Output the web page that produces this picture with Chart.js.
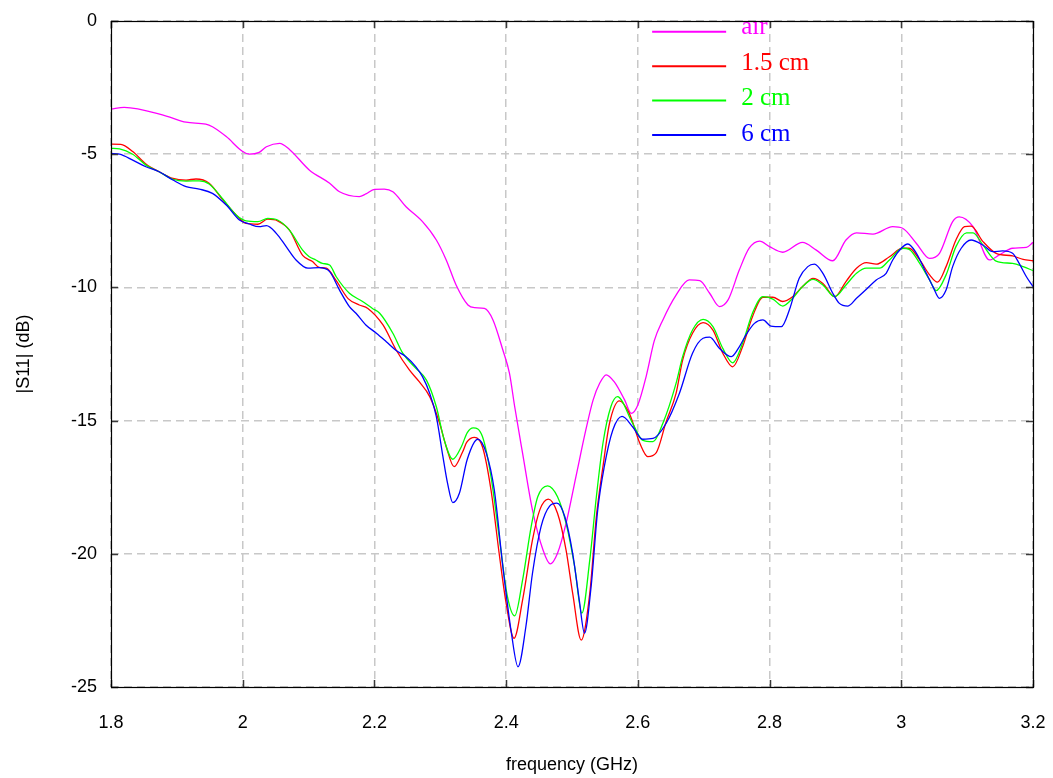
<!DOCTYPE html>
<html>
<head>
<meta charset="utf-8">
<title>|S11| vs frequency</title>
<style>
  html, body { margin: 0; padding: 0; background: #ffffff; }
  #wrap { width: 1053px; height: 778px; position: relative; }
  canvas { display: block; }
</style>
<script src="https://cdn.jsdelivr.net/npm/chart.js@4.4.0/dist/chart.umd.min.js"></script>
</head>
<body>
<div id="wrap"><canvas id="chart" width="1053" height="778"></canvas></div>
<script>
// Measured return loss |S11| (dB) versus frequency (GHz)
const seriesLabels = ['air', '1.5 cm', '2 cm', '6 cm'];

const airFreq = [1.800, 1.820, 1.884, 1.914, 1.944, 1.954, 1.975, 2.000, 2.010, 2.025, 2.036, 2.056, 2.071, 2.101, 2.132, 2.147, 2.177, 2.187, 2.200, 2.215, 2.228, 2.248, 2.273, 2.294, 2.309, 2.324, 2.342, 2.352, 2.367, 2.380, 2.395, 2.405, 2.413, 2.425, 2.440, 2.456, 2.467, 2.478, 2.491, 2.506, 2.521, 2.532, 2.542, 2.552, 2.564, 2.580, 2.590, 2.600, 2.613, 2.625, 2.638, 2.658, 2.678, 2.694, 2.709, 2.724, 2.737, 2.754, 2.769, 2.785, 2.800, 2.820, 2.850, 2.871, 2.896, 2.916, 2.932, 2.957, 2.987, 3.002, 3.023, 3.043, 3.058, 3.078, 3.088, 3.109, 3.134, 3.149, 3.169, 3.190, 3.200];
const airDb = [-3.31, -3.24, -3.57, -3.80, -3.87, -3.97, -4.34, -4.90, -5.00, -4.93, -4.72, -4.59, -4.82, -5.59, -6.09, -6.41, -6.59, -6.49, -6.32, -6.31, -6.41, -6.97, -7.53, -8.22, -8.97, -9.91, -10.66, -10.76, -10.79, -11.22, -12.35, -13.22, -14.48, -16.23, -18.36, -19.86, -20.38, -19.98, -18.86, -17.10, -15.35, -14.23, -13.60, -13.28, -13.54, -14.23, -14.73, -14.41, -13.30, -12.00, -11.22, -10.29, -9.72, -9.75, -10.22, -10.72, -10.47, -9.35, -8.53, -8.26, -8.47, -8.68, -8.31, -8.60, -9.00, -8.22, -7.95, -8.00, -7.72, -7.78, -8.35, -8.91, -8.72, -7.53, -7.35, -7.72, -8.97, -8.78, -8.53, -8.50, -8.31];

const cm15Freq = [1.800, 1.815, 1.833, 1.853, 1.873, 1.894, 1.914, 1.929, 1.949, 1.970, 1.990, 2.005, 2.023, 2.038, 2.053, 2.071, 2.091, 2.106, 2.116, 2.127, 2.142, 2.160, 2.177, 2.190, 2.213, 2.233, 2.253, 2.268, 2.284, 2.299, 2.309, 2.321, 2.334, 2.340, 2.352, 2.364, 2.377, 2.390, 2.400, 2.412, 2.425, 2.440, 2.451, 2.464, 2.478, 2.491, 2.501, 2.514, 2.527, 2.537, 2.547, 2.557, 2.572, 2.587, 2.603, 2.615, 2.628, 2.643, 2.658, 2.668, 2.683, 2.699, 2.714, 2.729, 2.744, 2.759, 2.774, 2.790, 2.805, 2.820, 2.835, 2.850, 2.866, 2.881, 2.899, 2.916, 2.932, 2.947, 2.962, 2.982, 3.002, 3.012, 3.028, 3.043, 3.055, 3.068, 3.083, 3.096, 3.106, 3.124, 3.144, 3.169, 3.185, 3.200];
const cm15Db = [-4.62, -4.63, -4.90, -5.37, -5.66, -5.91, -5.97, -5.93, -6.09, -6.72, -7.28, -7.60, -7.63, -7.44, -7.50, -7.85, -8.80, -9.03, -9.25, -9.28, -9.75, -10.42, -10.66, -10.79, -11.41, -12.35, -13.10, -13.54, -14.10, -15.10, -15.98, -16.73, -16.17, -15.82, -15.63, -15.98, -17.60, -20.10, -21.86, -23.17, -21.73, -19.48, -18.36, -17.95, -18.48, -19.86, -21.48, -23.24, -21.48, -18.60, -16.73, -15.10, -14.26, -14.73, -15.85, -16.35, -16.20, -15.04, -13.98, -12.73, -11.72, -11.32, -11.60, -12.47, -12.98, -12.23, -11.10, -10.37, -10.37, -10.53, -10.35, -9.97, -9.66, -9.85, -10.35, -9.78, -9.28, -9.07, -9.13, -8.85, -8.53, -8.53, -8.97, -9.53, -9.80, -9.22, -8.22, -7.72, -7.70, -8.28, -8.72, -8.82, -8.95, -9.00];

const cm2Freq = [1.800, 1.813, 1.833, 1.853, 1.873, 1.894, 1.914, 1.934, 1.949, 1.970, 1.990, 2.005, 2.023, 2.038, 2.053, 2.071, 2.091, 2.101, 2.111, 2.121, 2.132, 2.142, 2.162, 2.182, 2.197, 2.208, 2.228, 2.243, 2.263, 2.279, 2.294, 2.306, 2.319, 2.332, 2.341, 2.350, 2.364, 2.377, 2.390, 2.402, 2.413, 2.425, 2.438, 2.448, 2.463, 2.478, 2.491, 2.504, 2.515, 2.527, 2.537, 2.547, 2.559, 2.569, 2.592, 2.607, 2.623, 2.638, 2.658, 2.668, 2.683, 2.699, 2.714, 2.729, 2.744, 2.759, 2.774, 2.790, 2.805, 2.820, 2.835, 2.850, 2.866, 2.881, 2.899, 2.916, 2.932, 2.947, 2.967, 2.982, 3.002, 3.012, 3.028, 3.043, 3.053, 3.068, 3.083, 3.099, 3.109, 3.124, 3.144, 3.169, 3.185, 3.200];
const cm2Db = [-4.78, -4.80, -5.00, -5.41, -5.66, -5.94, -6.01, -6.00, -6.12, -6.69, -7.28, -7.50, -7.53, -7.41, -7.47, -7.85, -8.60, -8.85, -8.97, -9.10, -9.16, -9.60, -10.22, -10.53, -10.79, -10.97, -11.72, -12.47, -13.04, -13.48, -14.48, -15.73, -16.45, -15.98, -15.45, -15.27, -15.60, -17.10, -19.48, -21.61, -22.33, -20.98, -18.98, -17.86, -17.45, -17.86, -18.86, -20.48, -22.23, -20.23, -17.86, -15.85, -14.48, -14.10, -15.10, -15.73, -15.79, -15.10, -13.60, -12.60, -11.60, -11.20, -11.47, -12.29, -12.83, -12.10, -10.97, -10.35, -10.44, -10.70, -10.41, -9.97, -9.70, -9.91, -10.35, -9.91, -9.47, -9.28, -9.28, -8.97, -8.53, -8.57, -9.10, -9.72, -10.12, -9.53, -8.47, -7.95, -7.95, -8.41, -9.01, -9.10, -9.22, -9.37];

const cm6Freq = [1.800, 1.813, 1.833, 1.853, 1.873, 1.894, 1.914, 1.934, 1.954, 1.975, 1.995, 2.010, 2.025, 2.036, 2.051, 2.066, 2.081, 2.099, 2.116, 2.132, 2.147, 2.162, 2.172, 2.187, 2.203, 2.218, 2.233, 2.248, 2.263, 2.273, 2.284, 2.294, 2.304, 2.311, 2.319, 2.329, 2.341, 2.357, 2.370, 2.382, 2.395, 2.408, 2.418, 2.430, 2.440, 2.453, 2.466, 2.477, 2.489, 2.501, 2.511, 2.519, 2.529, 2.539, 2.549, 2.562, 2.576, 2.592, 2.607, 2.623, 2.643, 2.663, 2.683, 2.699, 2.709, 2.724, 2.742, 2.754, 2.764, 2.777, 2.790, 2.802, 2.818, 2.830, 2.845, 2.858, 2.868, 2.881, 2.896, 2.906, 2.919, 2.932, 2.947, 2.962, 2.977, 2.987, 3.000, 3.010, 3.023, 3.038, 3.048, 3.058, 3.068, 3.078, 3.091, 3.106, 3.124, 3.139, 3.154, 3.169, 3.179, 3.190, 3.200];
const cm6Db = [-4.97, -5.00, -5.22, -5.47, -5.66, -5.97, -6.22, -6.31, -6.47, -6.91, -7.47, -7.62, -7.72, -7.68, -7.97, -8.47, -8.97, -9.28, -9.26, -9.41, -10.10, -10.72, -10.97, -11.41, -11.72, -12.04, -12.37, -12.60, -12.98, -13.35, -13.98, -14.85, -16.35, -17.35, -18.08, -17.73, -16.45, -15.70, -16.23, -17.60, -20.48, -22.98, -24.24, -22.73, -20.73, -18.98, -18.21, -18.10, -18.60, -19.98, -21.73, -22.98, -21.23, -18.36, -16.73, -15.35, -14.84, -15.23, -15.70, -15.67, -15.10, -13.98, -12.47, -11.91, -11.87, -12.29, -12.60, -12.23, -11.79, -11.35, -11.22, -11.45, -11.47, -10.85, -9.66, -9.22, -9.13, -9.47, -10.22, -10.60, -10.70, -10.41, -10.07, -9.72, -9.47, -8.97, -8.53, -8.37, -8.72, -9.47, -9.97, -10.41, -10.10, -9.22, -8.53, -8.22, -8.41, -8.66, -8.63, -8.72, -9.10, -9.60, -9.97];

const freqTicks = [1.8, 2.0, 2.2, 2.4, 2.6, 2.8, 3.0, 3.2];
const dbTicks = [-25, -20, -15, -10, -5, 0];

const seriesColors = ['#ff00ff', '#ff0000', '#00ff00', '#0000ff'];

function pairs(fs, ds) {
  return fs.map((f, i) => ({ x: f, y: ds[i] }));
}

const sansFont = "'Liberation Sans', Arial, Helvetica, sans-serif";
const serifFont = "'Liberation Serif', 'Times New Roman', serif";

// Legend drawn inside the plot, upper centre, line sample + coloured label
const inPlotLegend = {
  id: 'inPlotLegend',
  afterDatasetsDraw(chart) {
    const { ctx, chartArea } = chart;
    ctx.save();
    ctx.beginPath();
    ctx.rect(chartArea.left, chartArea.top, chartArea.right - chartArea.left, chartArea.bottom - chartArea.top);
    ctx.clip();
    const xs = chart.scales.x;
    const x1 = xs.getPixelForValue(2.4) + 146;
    const x2 = x1 + 74;
    const tx = x2 + 15;
    chart.data.datasets.forEach((ds, i) => {
      const ly = chartArea.top + 10.8 + 34.4 * i;
      const ty = chartArea.top + 13.3 + 35.5 * i;
      ctx.strokeStyle = ds.borderColor;
      ctx.lineWidth = 2;
      ctx.beginPath();
      ctx.moveTo(x1, ly);
      ctx.lineTo(x2, ly);
      ctx.stroke();
      ctx.fillStyle = ds.borderColor;
      ctx.font = '25px ' + serifFont;
      ctx.textAlign = 'left';
      ctx.textBaseline = 'alphabetic';
      ctx.fillText(ds.label, tx, ty);
    });
    ctx.restore();
  }
};

// Box around the plot with short inward tick marks on all four sides
const plotFrame = {
  id: 'plotFrame',
  afterDraw(chart) {
    const { ctx, chartArea: a, scales } = chart;
    ctx.save();
    ctx.strokeStyle = '#3a3a3a';
    ctx.lineWidth = 1.5;
    ctx.beginPath();
    freqTicks.forEach(v => {
      const px = Math.round(scales.x.getPixelForValue(v)) + 0.5;
      ctx.moveTo(px, a.bottom); ctx.lineTo(px, a.bottom - 7);
      ctx.moveTo(px, a.top); ctx.lineTo(px, a.top + 7);
    });
    dbTicks.forEach(v => {
      const py = Math.round(scales.y.getPixelForValue(v)) + 0.5;
      ctx.moveTo(a.left, py); ctx.lineTo(a.left + 7, py);
      ctx.moveTo(a.right, py); ctx.lineTo(a.right - 7, py);
    });
    ctx.stroke();
    ctx.strokeStyle = '#000000';
    ctx.lineWidth = 1.2;
    ctx.strokeRect(Math.round(a.left) + 0.5, Math.round(a.top) + 0.5,
      Math.round(a.right - a.left), Math.round(a.bottom - a.top));
    ctx.restore();
  }
};

const datasets = [
  { label: seriesLabels[0], data: pairs(airFreq, airDb), borderColor: seriesColors[0], order: 4 },
  { label: seriesLabels[1], data: pairs(cm15Freq, cm15Db), borderColor: seriesColors[1], order: 3 },
  { label: seriesLabels[2], data: pairs(cm2Freq, cm2Db), borderColor: seriesColors[2], order: 2 },
  { label: seriesLabels[3], data: pairs(cm6Freq, cm6Db), borderColor: seriesColors[3], order: 1 }
].map(d => Object.assign(d, {
  borderWidth: 1.3,
  pointRadius: 0,
  fill: false,
  cubicInterpolationMode: 'monotone',
  backgroundColor: d.borderColor
}));

new Chart(document.getElementById('chart'), {
  type: 'line',
  data: { datasets },
  plugins: [inPlotLegend, plotFrame],
  options: {
    responsive: false,
    devicePixelRatio: 1,
    animation: false,
    layout: { padding: { top: 21, right: 20, left: 0, bottom: 0 } },
    plugins: {
      legend: { display: false },
      tooltip: { enabled: false },
      title: { display: false }
    },
    scales: {
      x: {
        type: 'linear',
        min: 1.8,
        max: 3.2,
        afterFit(scale) {
          scale.height = 91;
          scale.paddingLeft = 0;
          scale.paddingRight = 0;
        },
        afterBuildTicks(scale) { scale.ticks = freqTicks.map(v => ({ value: v })); },
        ticks: {
          color: '#000000',
          font: { family: sansFont, size: 18 },
          padding: 25,
          maxRotation: 0,
          autoSkip: false,
          callback: v => String(+v.toFixed(1))
        },
        grid: { color: '#c8c8c8', lineWidth: 1.5, drawTicks: false },
        border: { display: false, dash: [8, 5] },
        title: {
          display: true,
          text: 'frequency (GHz)',
          color: '#000000',
          font: { family: sansFont, size: 18 },
          padding: { top: 0, bottom: 2 }
        }
      },
      y: {
        type: 'linear',
        min: -25,
        max: 0,
        afterFit(scale) {
          scale.width = 111;
          scale.paddingTop = 0;
          scale.paddingBottom = 0;
        },
        afterBuildTicks(scale) { scale.ticks = dbTicks.map(v => ({ value: v })); },
        ticks: {
          color: '#000000',
          font: { family: sansFont, size: 18 },
          padding: 14,
          autoSkip: false,
          callback: v => String(v)
        },
        grid: { color: '#c8c8c8', lineWidth: 1.5, drawTicks: false },
        border: { display: false, dash: [8, 5] },
        title: {
          display: true,
          text: '|S11| (dB)',
          color: '#000000',
          font: { family: sansFont, size: 18 },
          padding: { top: 13, bottom: 0 }
        }
      }
    }
  }
});
</script>
</body>
</html>
